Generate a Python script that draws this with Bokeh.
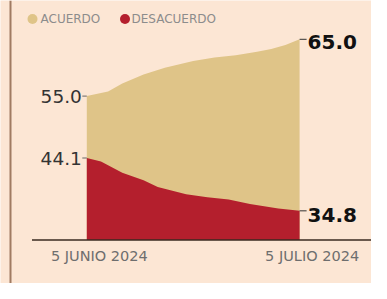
from bokeh.plotting import figure
from bokeh.models import Range1d, Span
from bokeh.core.properties import value
from bokeh.embed import file_html
from bokeh.resources import INLINE

# ---- data ----
days_acuerdo = [0, 3, 5, 8, 11, 15, 18, 21, 24, 26, 28, 30]
acuerdo = [55.0, 55.8, 57.2, 58.8, 60.0, 61.2, 61.8, 62.2, 62.8, 63.3, 64.0, 65.0]
days_desacuerdo = [0, 2, 5, 8, 10, 14, 17, 20, 23, 27, 30]
desacuerdo = [44.1, 43.5, 41.5, 40.2, 39.0, 37.7, 37.2, 36.8, 36.0, 35.2, 34.8]
series_names = ["ACUERDO", "DESACUERDO"]
date_labels = ["5 JUNIO 2024", "5 JULIO 2024"]

# ---- layout (pixel geometry) ----
W, H = 371, 283
DAY0_PX, DAY30_PX = 86.3, 299.1
PX_DAY = (DAY30_PX - DAY0_PX) / 30
Y65_PX, Y55_PX = 38.8, 95.6
PX_UNIT = (Y55_PX - Y65_PX) / 10
xs = -DAY0_PX / PX_DAY
xe = xs + W / PX_DAY
ye = 65.0 + Y65_PX / PX_UNIT
ys = ye - H / PX_UNIT
base = ye - 239.5 / PX_UNIT


def sx(px):
    return xs + px / PX_DAY


def sy(py):
    return ye - py / PX_UNIT


BG = "#fce6d4"
TAN = "#dfc488"
RED = "#b41f2d"

p = figure(width=W, height=H, x_range=Range1d(xs, xe), y_range=Range1d(ys, ye),
           output_backend="svg", toolbar_location=None, min_border=0)
p.axis.visible = False
p.grid.visible = False
p.outline_line_color = None
p.background_fill_color = BG
p.border_fill_color = BG

# left border line
p.add_layout(Span(location=sx(10), dimension="height",
                  line_color="#a07b62", line_width=2))

p.varea(x=days_acuerdo, y1=[base] * len(acuerdo), y2=acuerdo, fill_color=TAN)
p.varea(x=days_desacuerdo, y1=[base] * len(desacuerdo), y2=desacuerdo, fill_color=RED)

# baseline
p.segment(x0=[sx(31.5)], y0=[base], x1=[xe], y1=[base],
          line_color="#3a2a20", line_width=1.5)

# leader lines
d0, d1 = days_acuerdo[0], days_acuerdo[-1]
p.segment(x0=[d0 - 4.5 / PX_DAY] * 2, y0=[acuerdo[0], desacuerdo[0]],
          x1=[d0, d0], y1=[acuerdo[0], desacuerdo[0]], line_color="#666", line_width=1)
p.segment(x0=[d1, d1], y0=[acuerdo[-1], desacuerdo[-1]],
          x1=[d1 + 7 / PX_DAY] * 2, y1=[acuerdo[-1], desacuerdo[-1]], line_color="#333", line_width=1)

font = value("DejaVu Sans")
p.text(x=[d0, d0], y=[acuerdo[0], desacuerdo[0]],
       text=[f"{acuerdo[0]:.1f}", f"{desacuerdo[0]:.1f}"],
       x_offset=-5, text_align="right", text_baseline="middle",
       text_font=font, text_font_size="18.5px", text_color="#333333")
p.text(x=[d1, d1], y=[acuerdo[-1], desacuerdo[-1]],
       text=[f"{acuerdo[-1]:.1f}", f"{desacuerdo[-1]:.1f}"],
       x_offset=8, y_offset=[3, 4.5], text_align="left", text_baseline="middle",
       text_font=font, text_font_size="20px", text_font_style="bold", text_color="#111111")

# date labels
p.text(x=[d0, d1], y=[base, base], text=date_labels,
       x_offset=12.5, y_offset=16, text_align="center", text_baseline="middle",
       text_font=font, text_font_size="14.5px", text_color="#6e6e6e")

# legend (dots + labels)
p.scatter(x=[sx(32), sx(124.5)], y=[sy(18.5)] * 2, size=10,
          fill_color=[TAN, RED], line_color=None)
p.text(x=[sx(40), sx(131)], y=[sy(18.5)] * 2, text=series_names,
       text_align="left", text_baseline="middle",
       text_font=font, text_font_size="12px", text_color="#8c8c8c")

open("out.html", "w").write(file_html(p, INLINE))
